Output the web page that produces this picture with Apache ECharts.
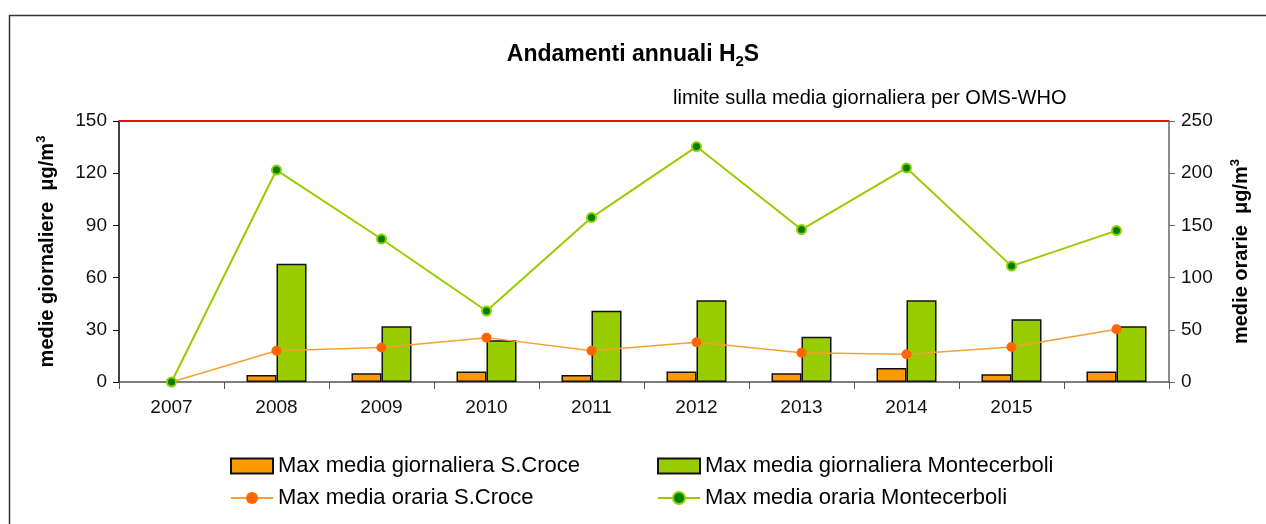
<!DOCTYPE html>
<html>
<head>
<meta charset="utf-8">
<script src="https://cdn.jsdelivr.net/npm/echarts@6/dist/echarts.min.js"></script>
<style>
html, body { margin: 0; padding: 0; background: #fff; }
#chart-box { width: 1266px; height: 524px; }
</style>
</head>
<body>
<div id="chart-box"></div>
<script>
// anni (l'ultima categoria non ha etichetta nel grafico originale)
var years = ['2007', '2008', '2009', '2010', '2011', '2012', '2013', '2014', '2015', ''];
// medie giornaliere (asse sinistro), nessuna barra nel 2007
var giornSCroce = [null, 4, 5, 6, 4, 6, 5, 8, 4.5, 6];
var giornMontecerboli = [null, 68, 32, 24, 41, 47, 26, 47, 36, 32];
// medie orarie (asse destro)
var orariaSCroce = [0, 30, 33, 42.5, 30, 38, 28, 26.5, 33.5, 50.5];
var orariaMontecerboli = [0, 203, 137, 68, 157.5, 225.5, 146, 205, 111, 145];
var limiteOMS = 150;

var font = 'Liberation Sans, Arial, sans-serif';

var option = {
    animation: false,
    backgroundColor: '#fff',
    title: {
        text: '{a|Andamenti annuali H}{b|2}{a|S}',
        left: 'center',
        top: 36,
        textStyle: {
            rich: {
                a: { fontFamily: font, fontSize: 23, fontWeight: 'bold', color: '#000', lineHeight: 28 },
                b: { fontFamily: font, fontSize: 15, fontWeight: 'bold', color: '#000', verticalAlign: 'bottom', lineHeight: 28, padding: [9, 0, 0, 0] }
            }
        }
    },
    graphic: [{
        type: 'rect',
        left: 7,
        top: 13,
        silent: true,
        z: -10,
        shape: { width: 1300, height: 600 },
        style: { fill: 'none', stroke: '#333', lineWidth: 1.5 }
    }, {
        type: 'text',
        left: 673,
        top: 88,
        style: {
            text: 'limite sulla media giornaliera per OMS-WHO',
            fill: '#000',
            font: '20px ' + font
        }
    }],
    legend: [{
        orient: 'vertical',
        left: 225,
        top: 450,
        itemWidth: 42,
        itemHeight: 15,
        itemGap: 10,
        textStyle: { fontFamily: font, fontSize: 22, color: '#000' },
        data: [
            { name: 'Max media giornaliera S.Croce', icon: 'rect' },
            { name: 'Max media oraria S.Croce' }
        ]
    }, {
        orient: 'vertical',
        left: 652,
        top: 450,
        itemWidth: 42,
        itemHeight: 15,
        itemGap: 10,
        textStyle: { fontFamily: font, fontSize: 22, color: '#000' },
        data: [
            { name: 'Max media giornaliera Montecerboli', icon: 'rect' },
            { name: 'Max media oraria Montecerboli' }
        ]
    }],
    grid: {
        left: 119,
        right: 97,
        top: 121,
        bottom: 142
    },
    xAxis: {
        type: 'category',
        data: years,
        boundaryGap: true,
        axisLine: { lineStyle: { color: '#555', width: 1.5 } },
        axisTick: { show: true, length: 7, lineStyle: { color: '#555' } },
        axisLabel: { fontFamily: font, fontSize: 19, color: '#111', margin: 16 },
        splitLine: { show: false }
    },
    yAxis: [{
        type: 'value',
        min: 0,
        max: 150,
        interval: 30,
        name: '{a|medie giornaliere  μg/m}{s|3}',
        nameLocation: 'middle',
        nameRotate: 90,
        nameGap: 60,
        nameTextStyle: {
            rich: {
                a: { fontFamily: font, fontSize: 20, fontWeight: 'bold', color: '#000', lineHeight: 24 },
                s: { fontFamily: font, fontSize: 13, fontWeight: 'bold', color: '#000', verticalAlign: 'top', lineHeight: 24, padding: [0, 0, 10, 0] }
            }
        },
        axisLine: { show: true, lineStyle: { color: '#000', width: 1.5 } },
        axisTick: { show: true, length: 6, lineStyle: { color: '#000' } },
        axisLabel: { fontFamily: font, fontSize: 19, color: '#111', margin: 12 },
        splitLine: { show: false }
    }, {
        type: 'value',
        position: 'right',
        min: 0,
        max: 250,
        interval: 50,
        name: '{a|medie orarie  μg/m}{s|3}',
        nameLocation: 'middle',
        nameRotate: 90,
        nameGap: 60,
        nameTextStyle: {
            rich: {
                a: { fontFamily: font, fontSize: 20, fontWeight: 'bold', color: '#000', lineHeight: 24 },
                s: { fontFamily: font, fontSize: 13, fontWeight: 'bold', color: '#000', verticalAlign: 'top', lineHeight: 24, padding: [0, 0, 10, 0] }
            }
        },
        axisLine: { show: true, lineStyle: { color: '#666', width: 1.5 } },
        axisTick: { show: true, length: 6, lineStyle: { color: '#666' } },
        axisLabel: { fontFamily: font, fontSize: 19, color: '#111', margin: 12 },
        splitLine: { show: false }
    }],
    series: [{
        name: 'Max media giornaliera S.Croce',
        type: 'bar',
        yAxisIndex: 0,
        data: giornSCroce,
        barWidth: 30,
        barGap: '0%',
        itemStyle: { color: '#FF9900', borderColor: '#111', borderWidth: 1.5 }
    }, {
        name: 'Max media giornaliera Montecerboli',
        type: 'bar',
        yAxisIndex: 0,
        data: giornMontecerboli,
        barWidth: 30,
        barGap: '0%',
        itemStyle: { color: '#99CC00', borderColor: '#111', borderWidth: 1.5 },
        markLine: {
            silent: true,
            symbol: 'none',
            label: { show: false },
            lineStyle: { color: '#E01010', width: 2, type: 'solid' },
            data: [{ yAxis: limiteOMS }]
        }
    }, {
        name: 'Max media oraria S.Croce',
        type: 'line',
        yAxisIndex: 1,
        data: orariaSCroce,
        symbol: 'circle',
        symbolSize: 10,
        z: 5,
        lineStyle: { color: '#F5A030', width: 1.5 },
        itemStyle: { color: '#FF6600' }
    }, {
        name: 'Max media oraria Montecerboli',
        type: 'line',
        yAxisIndex: 1,
        data: orariaMontecerboli,
        symbol: 'circle',
        symbolSize: 9,
        z: 5,
        lineStyle: { color: '#99CC00', width: 2 },
        itemStyle: { color: '#008000', borderColor: '#8FD000', borderWidth: 2 }
    }]
};

var myChart = echarts.init(document.getElementById('chart-box'), null, { renderer: 'canvas' });
myChart.setOption(option);
</script>
</body>
</html>
